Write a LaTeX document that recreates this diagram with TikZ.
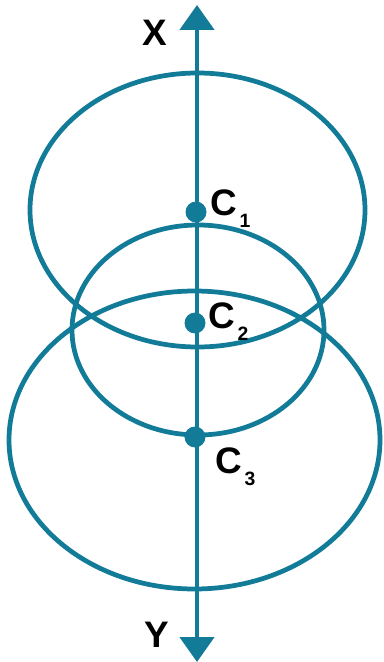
\documentclass[tikz,border=0pt]{standalone}
\usepackage{fontspec}
\setmainfont{Liberation Sans}
\usetikzlibrary{arrows.meta,positioning}
\definecolor{axisblue}{RGB}{18,123,152}
\tikzset{
	ring/.style={draw=axisblue,line width=2.7pt},
	centre/.style={circle,fill=axisblue,inner sep=0pt,minimum size=0.42cm},
	lbl/.style={font=\fontsize{21}{21}\selectfont\bfseries,inner sep=0pt},
}
\newcommand{\ctext}[1]{C\hspace{1.5pt}\raisebox{-7pt}{\fontsize{11}{11}\selectfont #1}}

\begin{document}
\begin{tikzpicture}[x=0.02cm,y=-0.02cm]
	\useasboundingbox (0,0) rectangle (383,662);
	\draw[ring](197.5,210) ellipse[x radius=167.5,y radius=137];
	\draw[ring](198,330) ellipse[x radius=126,y radius=105];
	\draw[ring](194.5,440) ellipse[x radius=185.5,y radius=149];
	\coordinate (top) at (197,5);
	\coordinate (bot) at (197,662);
	\draw[axisblue,line width=2.7pt,{Triangle[width=0.68cm,length=0.5cm]}-{Triangle[width=0.68cm,length=0.5cm]}](top)--(bot);
	\node[centre] (c1) at (196,212) {};
	\node[centre] (c2) at (195,323) {};
	\node[centre] (c3) at (195,437) {};
	\node[lbl,anchor=base west] (l1) at ([shift={(14,3)}]c1) {\ctext{1}};
	\node[lbl,anchor=base west] (l2) at ([shift={(13,5)}]c2) {\ctext{2}};
	\node[lbl,anchor=base west] (l3) at ([shift={(20,36)}]c3) {\ctext{3}};
	\node[lbl] (xl) at (155,33) {X};
	\node[lbl] (yl) at (157,635) {Y};
\end{tikzpicture}
\end{document}
